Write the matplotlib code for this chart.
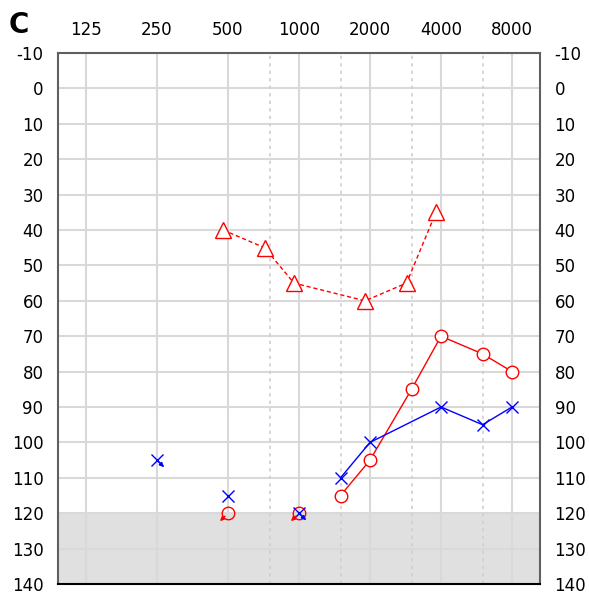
import matplotlib
matplotlib.use("Agg")
import matplotlib.pyplot as plt
import matplotlib.transforms as mtransforms
import numpy as np

plt.rcParams['font.family'] = ['DejaVu Sans']

freq_ticks = [125, 250, 500, 1000, 2000, 4000, 8000]
half_octaves = [750, 1500, 3000, 6000]
db_ticks = list(range(-10, 141, 10))

# Red dashed triangles
tri_freq = [500, 750, 1000, 2000, 3000, 4000]
tri_db = [40, 45, 55, 60, 55, 35]

# Red circles (connected)
red_freq = [1500, 2000, 3000, 4000, 6000, 8000]
red_db = [115, 105, 85, 70, 75, 80]
# Red circles no response
red_nr_freq = [500, 1000]
red_nr_db = [120, 120]

# Blue crosses (connected)
blue_freq = [1500, 2000, 4000, 6000, 8000]
blue_db = [110, 100, 90, 95, 90]
blue_single_freq = [500]
blue_single_db = [115]
# Blue no response
blue_nr_freq = [250, 1000]
blue_nr_db = [105, 120]

fig = plt.figure(figsize=(5.89, 5.95), dpi=100)
ax = fig.add_axes([58/589, 1-584/595, (540-58)/589, (584-53)/595])

ax.set_xscale('log', base=2)
lo = 2**(np.log2(125) - 0.394)
hi = 2**(np.log2(8000) + 0.394)
ax.set_xlim(lo, hi)
ax.set_ylim(140, -10)

ax.axhspan(120, 140, color='#e0e0e0', zorder=0, lw=0)
for y in db_ticks:
    ax.axhline(y, color='#d9d9d9', lw=1.5, zorder=1)
for f in freq_ticks:
    ax.axvline(f, color='#d9d9d9', lw=1.5, zorder=1)
for f in half_octaves:
    ax.axvline(f, color='#d0d0d0', lw=1.2, ls=(0, (2, 2.5)), zorder=1)

ax.set_xticks(freq_ticks)
ax.set_xticklabels([str(f) for f in freq_ticks])
ax.xaxis.set_minor_locator(matplotlib.ticker.NullLocator())
ax.xaxis.tick_top()
ax.set_yticks(db_ticks)
ax.set_yticklabels([str(v) for v in db_ticks])
ax.tick_params(axis='both', length=0, labelsize=12, colors='black')
ax.tick_params(axis='y', labelleft=True, labelright=True, pad=10.5)
ax.tick_params(axis='x', pad=10)

for s in ['top', 'right', 'left']:
    ax.spines[s].set_color('#606060')
    ax.spines[s].set_linewidth(1.5)
ax.spines['bottom'].set_color('black')
ax.spines['bottom'].set_linewidth(1.5)

# Triangles offset left slightly
off = mtransforms.ScaledTranslation(-5/100, 0, fig.dpi_scale_trans)
ax.plot(tri_freq, tri_db, color='red', lw=1, ls=(0, (3, 2)), marker='^', ms=11,
        mfc='white', mec='red', mew=1, zorder=4, transform=ax.transData + off)

ax.plot(red_freq, red_db, color='red', lw=1, marker='o', ms=9,
        mfc='white', mec='red', mew=1, zorder=4)
ax.plot(red_nr_freq, red_nr_db, ls='none', marker='o', ms=9,
        mfc='none', mec='red', mew=1, zorder=4)

ax.plot(blue_freq, blue_db, color='blue', lw=1, marker='x', ms=9,
        mec='blue', mew=1, zorder=5)
ax.plot(blue_single_freq, blue_single_db, ls='none', marker='x', ms=9,
        mec='blue', mew=1, zorder=5)
ax.plot(blue_nr_freq, blue_nr_db, ls='none', marker='x', ms=9,
        mec='blue', mew=1, zorder=5)

# No-response arrows
red_head = ax.transData + mtransforms.ScaledTranslation(-8/100, -8/100, fig.dpi_scale_trans)
for f, d in zip(red_nr_freq, red_nr_db):
    ax.annotate('', xy=(f, d), xycoords=red_head,
                xytext=(f, d), textcoords='data', zorder=5,
                arrowprops=dict(arrowstyle='-|>', color='red', lw=1,
                                mutation_scale=6, shrinkA=3, shrinkB=0))
blue_head = ax.transData + mtransforms.ScaledTranslation(7/100, -7/100, fig.dpi_scale_trans)
for f, d in zip(blue_nr_freq, blue_nr_db):
    ax.annotate('', xy=(f, d), xycoords=blue_head,
                xytext=(f, d), textcoords='data', zorder=6,
                arrowprops=dict(arrowstyle='-|>', color='blue', lw=1,
                                mutation_scale=6, shrinkA=0, shrinkB=0))

fig.text(9/589, 1-25/595, 'C', fontsize=20, fontweight='bold',
         ha='left', va='center')

fig.savefig('out.png', dpi=100)
